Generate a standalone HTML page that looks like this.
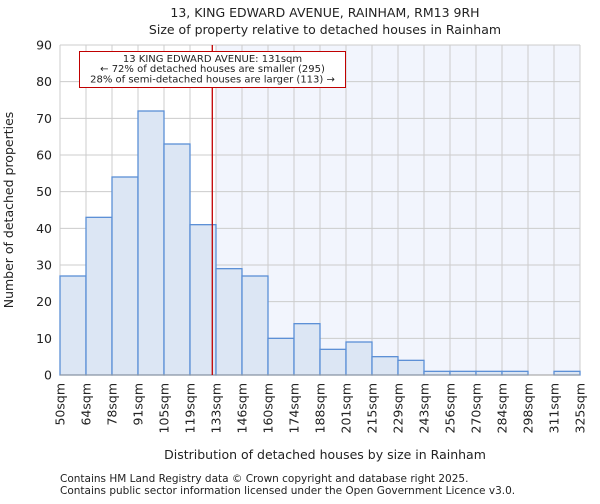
<!DOCTYPE html>
<html><head><meta charset="utf-8"><style>
body{margin:0;background:#fff;font-family:"DejaVu Sans","Liberation Sans",sans-serif}
svg text{font-family:"DejaVu Sans","Liberation Sans",sans-serif;fill:#222}
</style></head><body>
<svg id="c" width="600" height="500" xmlns="http://www.w3.org/2000/svg">
<text x="325" y="17" font-size="12.5" text-anchor="middle">13, KING EDWARD AVENUE, RAINHAM, RM13 9RH</text>
<text x="325" y="34" font-size="12.5" text-anchor="middle">Size of property relative to detached houses in Rainham</text>
<text x="325" y="459" font-size="12.5" text-anchor="middle">Distribution of detached houses by size in Rainham</text>
<text transform="translate(13,210) rotate(-90)" font-size="12.5" text-anchor="middle">Number of detached properties</text>
<text x="60" y="482" font-size="10.5">Contains HM Land Registry data © Crown copyright and database right 2025.</text>
<text x="60" y="494" font-size="10.5">Contains public sector information licensed under the Open Government Licence v3.0.</text>
<g id="plot"></g>
</svg>
<script>
const categories=["50sqm","64sqm","78sqm","91sqm","105sqm","119sqm","133sqm","146sqm","160sqm","174sqm","188sqm","201sqm","215sqm","229sqm","243sqm","256sqm","270sqm","284sqm","298sqm","311sqm","325sqm"];
const counts=[27,43,54,72,63,41,29,27,10,14,7,9,5,4,1,1,1,1,0,1];
const yTicks=[0,10,20,30,40,50,60,70,80,90];
const binStarts=[50,64,78,91,105,119,133,146,160,174,188,201,215,229,243,256,270,284,298,311,325];
const markerSize=131;
const L=60,R=580,T=45,B=375,yMax=90;
const NS="http://www.w3.org/2000/svg";
const g=document.getElementById('plot');
const bw=(R-L)/counts.length;
const xi=i=>L+i*bw;
const y=v=>B-(v/yMax)*(B-T);
function mk(t,a,p){const e=document.createElementNS(NS,t);for(const k in a)e.setAttribute(k,a[k]);(p||g).appendChild(e);return e;}
// marker position
let mi=0;for(let i=0;i<binStarts.length-1;i++)if(markerSize>=binStarts[i])mi=i;
const mx=xi(mi)+bw*(markerSize-binStarts[mi])/(binStarts[mi+1]-binStarts[mi]);
const shade=mk('rect',{x:xi(mi+1),y:T,width:R-xi(mi+1),height:B-T,fill:'#f2f5fd'});


yTicks.forEach(v=>{
 const l=mk('line',{x1:L,x2:R,y1:y(v),y2:y(v),stroke:'#cccccc'});
 
 
 const t=mk('text',{x:L-8,y:y(v)+4.5,'font-size':'12.5','text-anchor':'end'});t.textContent=v;
 
 
});
categories.forEach((c,i)=>{
 const l=mk('line',{x1:xi(i),x2:xi(i),y1:T,y2:B,stroke:'#cccccc'});
 
 
 const t=mk('text',{transform:`translate(${xi(i)+4.5},${B+8}) rotate(-90)`,'font-size':'12.5','text-anchor':'end'});t.textContent=c;
 
 
});
counts.forEach((v,i)=>{
 if(v<=0)return;
 const r=mk('rect',{x:xi(i),y:y(v),width:bw,height:B-y(v),fill:'#dce6f4',stroke:'#5b8fd6','stroke-width':1.3});
 
 
});
const ax=mk('line',{x1:L,x2:R,y1:B,y2:B,stroke:'#999'});


const ml=mk('line',{x1:mx,x2:mx,y1:T,y2:B,stroke:'#c00000','stroke-width':1.3});


const box=mk('rect',{x:79.5,y:51.5,width:266,height:36,fill:'#fff',stroke:'#c00000','stroke-width':1});


["13 KING EDWARD AVENUE: 131sqm","← 72% of detached houses are smaller (295)","28% of semi-detached houses are larger (113) →"].forEach((s,k)=>{
 const t=mk('text',{x:212.5,y:62+k*10.2,'font-size':'10','text-anchor':'middle'});t.textContent=s;
 
 
});
</script>
</body></html>
